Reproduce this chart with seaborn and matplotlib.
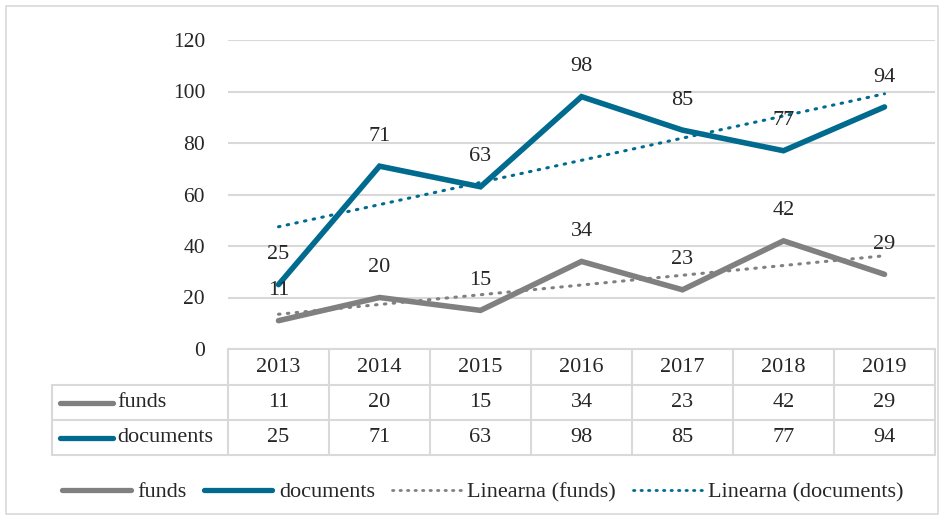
import numpy as np
import pandas as pd
import matplotlib
matplotlib.use("Agg")
import matplotlib.pyplot as plt
import seaborn as sns
from matplotlib.lines import Line2D
from matplotlib.patches import Rectangle

# ── data ─────────────────────────────────────────────
years = ["2013", "2014", "2015", "2016", "2017", "2018", "2019"]
funds = [11, 20, 15, 34, 23, 42, 29]
documents = [25, 71, 63, 98, 85, 77, 94]
series_names = ["funds", "documents"]
yticks = [0, 20, 40, 60, 80, 100, 120]

GRAY = "#808080"
TEAL = "#006b8f"
GRID = "#d9d9d9"
TXT = "#262626"
FS = 16

sns.set_theme(style="white")
plt.rcParams["font.family"] = ["Liberation Serif", "DejaVu Serif"]

W, H = 943, 520
fig = plt.figure(figsize=(W / 100, H / 100), dpi=100)

def fx(x):
    return x / W

def fy(y):
    return 1 - y / H

# plot area
left, right, top, bottom = 228, 935, 40, 349
ax = fig.add_axes([fx(left), fy(bottom), fx(right - left), fy(top) - fy(bottom)])

df = pd.DataFrame({"x": np.arange(len(years)), "funds": funds, "documents": documents})

for name, col in zip(series_names, [GRAY, TEAL]):
    sns.lineplot(data=df, x="x", y=name, ax=ax, color=col, lw=4, legend=False,
                 solid_capstyle="round", solid_joinstyle="miter", zorder=3)
    sns.regplot(data=df, x="x", y=name, ax=ax, scatter=False, ci=None,
                line_kws=dict(color=col, lw=2.2, linestyle=(0, (0.5, 2.4)),
                              dash_capstyle="round", zorder=4))
    for xi, v in zip(df["x"], df[name]):
        ax.annotate(str(v), (xi, v), xytext=(0, 21.5), textcoords="offset points",
                    ha="center", va="center", fontsize=FS, color=TXT, zorder=5)

ax.set_xlim(-0.5, len(years) - 0.5)
ax.set_ylim(0, 120)
ax.set_yticks(yticks)
ax.set_yticklabels([str(t) for t in yticks], fontsize=FS - 0.5, color=TXT)
ax.tick_params(axis="y", length=0, pad=16.5)
ax.set_xticks([])
ax.set_xlabel("")
ax.set_ylabel("")
ax.grid(axis="y", color=GRID, lw=1.5)
ax.set_axisbelow(True)
for s in ax.spines.values():
    s.set_visible(False)

# ── data table ───────────────────────────────────────
row_edges = [349, 385, 420, 455]
tbl_left = 52
col_w = (right - left) / len(years)
col_edges = [left + i * col_w for i in range(len(years) + 1)]

def hline(y, x0, x1):
    fig.add_artist(Line2D([fx(x0), fx(x1)], [fy(y), fy(y)], color=GRID, lw=1.5))

def vline(x, y0, y1):
    fig.add_artist(Line2D([fx(x), fx(x)], [fy(y0), fy(y1)], color=GRID, lw=1.5))

hline(row_edges[0], left, right)
for y in row_edges[1:]:
    hline(y, tbl_left, right)
for x in col_edges:
    vline(x, row_edges[0], row_edges[-1])
vline(tbl_left, row_edges[1], row_edges[-1])

ycen = [(row_edges[i] + row_edges[i + 1]) / 2 for i in range(3)]
for i, yr in enumerate(years):
    xc = (col_edges[i] + col_edges[i + 1]) / 2
    fig.text(fx(xc), fy(ycen[0]), yr, ha="center", va="center", fontsize=FS, color=TXT)
    fig.text(fx(xc), fy(ycen[1]), str(funds[i]), ha="center", va="center", fontsize=FS, color=TXT)
    fig.text(fx(xc), fy(ycen[2]), str(documents[i]), ha="center", va="center", fontsize=FS, color=TXT)

for r, (name, col) in enumerate(zip(series_names, [GRAY, TEAL])):
    yc = ycen[r + 1]
    fig.add_artist(Line2D([fx(60), fx(113)], [fy(yc), fy(yc)], color=col, lw=3.8,
                          solid_capstyle="round"))
    fig.text(fx(117), fy(yc), name, ha="left", va="center", fontsize=FS, color=TXT)

# ── legend ───────────────────────────────────────────
handles = [
    Line2D([], [], color=GRAY, lw=3.8, solid_capstyle="round"),
    Line2D([], [], color=TEAL, lw=3.8, solid_capstyle="round"),
    Line2D([], [], color=GRAY, lw=2, linestyle=(0, (0.5, 2.2)), dash_capstyle="round"),
    Line2D([], [], color=TEAL, lw=2, linestyle=(0, (0.5, 2.2)), dash_capstyle="round"),
]
labels = ["funds", "documents", "Linearna (funds)", "Linearna (documents)"]
leg = fig.legend(handles, labels, loc="center", bbox_to_anchor=(fx(483), fy(492)),
                 ncol=4, frameon=False, fontsize=FS, handlelength=3.1,
                 handletextpad=0.3, columnspacing=0.75)
for t in leg.get_texts():
    t.set_color(TXT)

# outer border
fig.add_artist(Rectangle((fx(6), fy(514)), fx(932), fy(6) - fy(514), fill=False,
                         edgecolor=GRID, lw=1.2))

fig.savefig("out.png", dpi=100)
